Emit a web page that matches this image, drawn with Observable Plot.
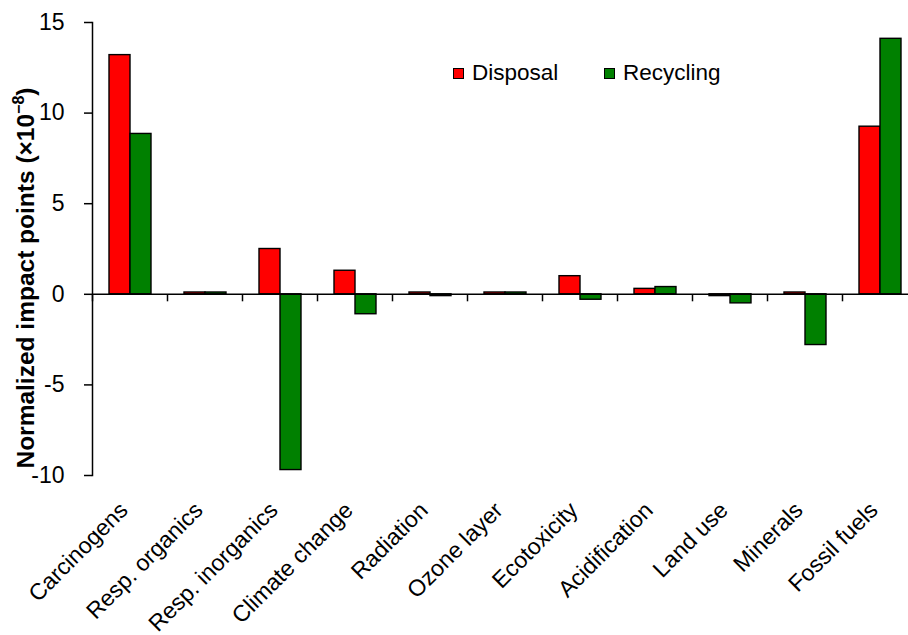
<!DOCTYPE html>
<html>
<head>
<meta charset="utf-8">
<script src="https://cdn.jsdelivr.net/npm/d3@7"></script>
<script src="https://cdn.jsdelivr.net/npm/@observablehq/plot@0.6"></script>
<style>
  html, body { margin: 0; padding: 0; overflow: hidden; background: #fff; }
  #wrap { position: relative; width: 908px; height: 635px; overflow: hidden; font-family: "Liberation Sans", Arial, sans-serif; }
  #chart svg { max-width: none !important; }
  #ylabel { position: absolute; left: 25px; top: 278px; transform: translate(-50%, -50%) rotate(-90deg); white-space: nowrap; font-weight: bold; font-size: 24.5px; color: #000; }
  #ylabel sup { font-size: 16px; }
  .leg { position: absolute; display: flex; align-items: center; font-size: 22.5px; color: #000; }
  .sw { width: 9px; height: 9px; border: 1.5px solid #000; margin-right: 8px; }
</style>
</head>
<body>
<div id="wrap">
  <div id="chart"></div>
  <div id="ylabel">Normalized impact points (×10<sup>−8</sup>)</div>
  <div id="legend"></div>
</div>
<script>
const categories = ["Carcinogens", "Resp. organics", "Resp. inorganics", "Climate change", "Radiation", "Ozone layer", "Ecotoxicity", "Acidification", "Land use", "Minerals", "Fossil fuels"];
const series = ["Disposal", "Recycling"];
const disposal = [13.2, 0.1, 2.5, 1.3, 0.1, 0.1, 1.0, 0.3, -0.1, 0.1, 9.25];
const recycling = [8.85, 0.1, -9.7, -1.1, -0.1, 0.1, -0.3, 0.4, -0.5, -2.8, 14.1];
const colors = ["#ff0000", "#008000"];
const yTicks = [-10, -5, 0, 5, 10, 15];

const data = [];
categories.forEach((c, i) => {
  data.push({category: c, series: series[0], value: disposal[i]});
  data.push({category: c, series: series[1], value: recycling[i]});
});

const tickSym = { draw(context) { context.moveTo(0, 0); context.lineTo(0, 7); } };

const chart = Plot.plot({
  width: 920,
  height: 635,
  marginLeft: 88,
  marginRight: 0,
  marginTop: 22,
  marginBottom: 160,
  style: { fontFamily: "Liberation Sans, Arial, sans-serif", fontSize: "23px", color: "#000", background: "#fff", maxWidth: "none" },
  fx: { domain: categories, padding: 0, label: null },
  x: { domain: series, paddingInner: 0, paddingOuter: 0.78, axis: null },
  y: { domain: [-10, 15], label: null },
  color: { domain: series, range: colors },
  marks: [
    Plot.barY(data, { fx: "category", x: "series", y: "value", fill: "series", stroke: "#000", strokeWidth: 1.4 }),
    Plot.ruleY([0], { stroke: "#000", strokeWidth: 1.5 }),
    Plot.dot([0], { y: d => d, frameAnchor: "left", symbol: tickSym, stroke: "#000", fill: "none", strokeWidth: 1.5 }),
    Plot.frame({ anchor: "left", facet: "super", stroke: "#000", strokeWidth: 1.5 }),
    Plot.axisY({ ticks: yTicks, tickSize: 8, tickPadding: 20, tickFormat: d => String(d), fontSize: 23, label: null, strokeWidth: 1.5 }),
    Plot.axisFx({ anchor: "bottom", tickSize: 0, tickRotate: -45, tickPadding: 31, dx: -6, fontSize: 23, label: null })
  ]
});
chart.style.maxWidth = "none";
document.getElementById("chart").appendChild(chart);

const legend = document.getElementById("legend");
const legPos = [{left: 453, top: 60}, {left: 604, top: 60}];
series.forEach((s, i) => {
  const item = document.createElement("div");
  item.className = "leg";
  item.style.left = legPos[i].left + "px";
  item.style.top = legPos[i].top + "px";
  const sw = document.createElement("div");
  sw.className = "sw";
  sw.style.background = colors[i];
  item.appendChild(sw);
  const t = document.createElement("span");
  t.textContent = s;
  item.appendChild(t);
  legend.appendChild(item);
});
</script>
</body>
</html>
